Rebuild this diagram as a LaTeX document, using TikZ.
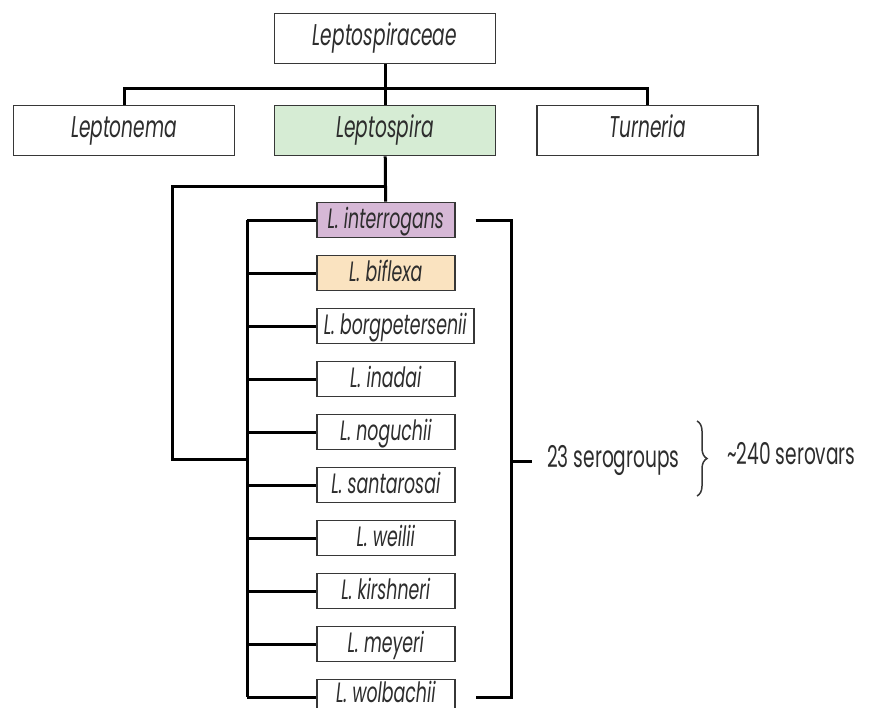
\documentclass[tikz,border=0pt]{standalone}
\usepackage{fontspec}
\setmainfont{Poppins}[FakeStretch=0.62]
\usepackage{tikz}
\usetikzlibrary{positioning,decorations.pathreplacing}
\definecolor{genusgreen}{RGB}{214,236,212}
\definecolor{interpurple}{RGB}{214,184,214}
\definecolor{biflexorange}{RGB}{250,227,192}
\definecolor{boxline}{RGB}{55,55,55}
\definecolor{inktext}{RGB}{45,45,45}

\begin{document}
\begin{tikzpicture}[x=1pt,y=-1pt,
	taxon/.style={draw=boxline,line width=1.6pt,fill=white,text=inktext,
		font=\fontsize{30}{34}\selectfont\itshape,minimum height=50pt,
		minimum width=221pt,inner sep=0pt,text height=13pt,text depth=0pt},
	species/.style={draw=boxline,line width=1.6pt,text=inktext,anchor=west,
		font=\fontsize{28}{32}\selectfont\itshape,minimum height=35pt,
		minimum width=138pt,inner xsep=7pt,inner ysep=0pt,text depth=0pt},
	link/.style={line width=3pt,line join=miter},
	plain/.style={text=inktext,inner sep=0pt,font=\fontsize{30}{34}\selectfont,
		text height=12pt,text depth=0pt}]
	\useasboundingbox (0,0) rectangle (872,707);
	% family and genera
	\node[taxon] (fam) at (385,38.5) {Leptospiraceae};
	\node[taxon] (gen1) at (124,130.5) {Leptonema};
	\node[taxon,fill=genusgreen] (gen2) at (385,130.5) {Leptospira};
	\node[taxon] (gen3) at (647.5,130.5) {Turneria};
	\coordinate (hub) at (385,88);
	\draw[link] (fam) -- (gen2);
	\draw[link] (gen1.north) |- (hub) -| (gen3.north);
	% species
	\foreach \sp/\col/\th [count=\i from 0] in {interrogans/interpurple/16,
		biflexa/biflexorange/16,borgpetersenii/white/16,inadai/white/16,
		noguchii/white/16,santarosai/white/16,weilii/white/16,kirshneri/white/16,
		meyeri/white/16,wolbachii/white/10}
	{\node[species,fill=\col,text height=\th pt] (s\i) at (316,{220+53*\i})
		{L. \sp};}
	\coordinate (fork) at (385,186);
	\coordinate (lft) at (172,459);
	\coordinate (spine) at (247,459);
	\draw[link] (gen2) -- (s0);
	\draw[link] (fork) -| (lft) -- (spine);
	\draw[link] (s0.west -| spine) -- (s9.west -| spine);
	\foreach \i in {0,...,9}
	{\draw[link] (s\i.west) -- (s\i.west -| spine);}
	% serogroups bracket
	\coordinate (br) at (511,461);
	\draw[link] ([xshift=20pt]s0.east) -| (br) |- ([xshift=20pt]s9.east);
	\draw[link] (br) -- ++(21,0) coordinate (tick);
	\node[plain,right=15pt of tick] (sg) {23 serogroups};
	\coordinate (bracetop) at (697,421);
	\coordinate (bracebot) at (697,496);
	\coordinate (bracetip) at (708,458);
	\draw[boxline,line width=1.5pt,decorate,decoration={brace,amplitude=10pt}]
		(bracetop) -- (bracebot);
	\node[plain,right=19pt of bracetip] (sv) {\textasciitilde240 serovars};
\end{tikzpicture}
\end{document}
